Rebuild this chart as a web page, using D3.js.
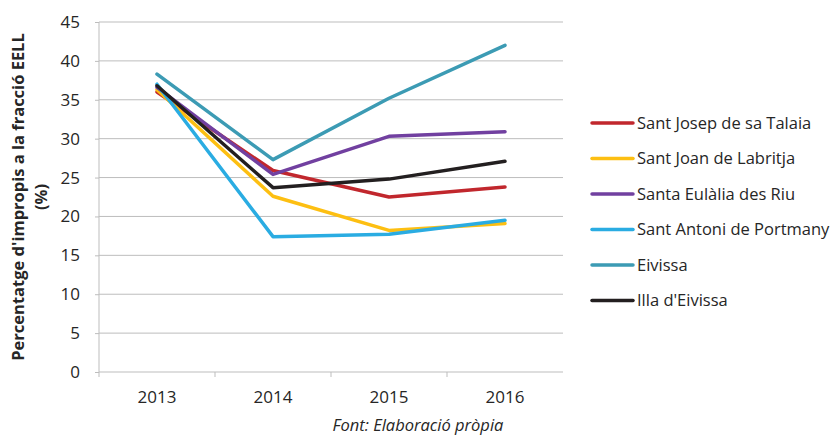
<!DOCTYPE html>
<html>
<head>
<meta charset="utf-8">
<script src="https://cdn.jsdelivr.net/npm/d3@7"></script>
<style>
  body { margin: 0; background: #fff; }
  svg { font-family: "Open Sans", sans-serif; }
</style>
</head>
<body>
<div id="chart_svg"></div>
<script>
// data
const years = ["2013", "2014", "2015", "2016"]
const santJosep = [36.0, 25.9, 22.5, 23.8]
const santJoan = [36.3, 22.6, 18.2, 19.1]
const santaEulalia = [36.6, 25.4, 30.3, 30.9]
const santAntoni = [37.0, 17.4, 17.7, 19.5]
const eivissa = [38.3, 27.3, 35.2, 42.0]
const illa = [36.8, 23.7, 24.8, 27.1]
const yTicks = [0, 5, 10, 15, 20, 25, 30, 35, 40, 45]

const series = [
  {name: "Sant Josep de sa Talaia", values: santJosep, color: "#c1272d"},
  {name: "Sant Joan de Labritja", values: santJoan, color: "#fdbf12"},
  {name: "Santa Eulàlia des Riu", values: santaEulalia, color: "#7140a0"},
  {name: "Sant Antoni de Portmany", values: santAntoni, color: "#2aace2"},
  {name: "Eivissa", values: eivissa, color: "#3c9bb4"},
  {name: "Illa d'Eivissa", values: illa, color: "#231f20"}
]

const totalWidth = 840
const totalHeight = 443
var margin = {top: 22, right: 277, bottom: 71, left: 99},
    width = totalWidth - margin.left - margin.right,
    height = totalHeight - margin.top - margin.bottom;

var svg = d3.select("#chart_svg")
  .append("svg")
  .attr("width", totalWidth)
  .attr("height", totalHeight)

var g = svg.append("g")
  .attr("transform", "translate(" + margin.left + "," + margin.top + ")")

// scales
var x = d3.scaleBand().domain(years).range([0, width]).padding(0)
var y = d3.scaleLinear().domain([0, 45]).range([height, 0])

// gridlines
g.append("g")
  .selectAll("line")
  .data(yTicks.filter(d => d > 0))
  .join("line")
  .attr("x1", 0).attr("x2", width)
  .attr("y1", d => y(d)).attr("y2", d => y(d))
  .attr("stroke", "#bdbdbd")
  .attr("stroke-width", 1)

// y axis
var yAxis = g.append("g")
  .call(d3.axisLeft(y).tickValues(yTicks).tickSize(4).tickPadding(15))
yAxis.select(".domain").attr("stroke", "#bdbdbd").attr("d", "M0," + (height + 5) + "V0")
yAxis.selectAll(".tick line").attr("stroke", "#bdbdbd")
yAxis.selectAll("text").attr("font-size", 17).attr("fill", "#262626").attr("font-family", "Open Sans")

// x axis
var xAxis = g.append("g")
  .attr("transform", "translate(0," + height + ")")
  .call(d3.axisBottom(x).tickSize(0).tickPadding(19))
xAxis.select(".domain").attr("stroke", "#bdbdbd").attr("d", "M0,0H" + width)
xAxis.selectAll("text").attr("font-size", 17).attr("fill", "#262626").attr("font-family", "Open Sans")
// category boundary ticks
g.append("g")
  .selectAll("line")
  .data(years.slice(1))
  .join("line")
  .attr("x1", d => x(d)).attr("x2", d => x(d))
  .attr("y1", height).attr("y2", height + 5)
  .attr("stroke", "#bdbdbd")

// lines
var line = d3.line()
  .x((d, i) => x(years[i]) + x.bandwidth() / 2)
  .y(d => y(d))

g.append("g")
  .selectAll("path")
  .data(series)
  .join("path")
  .attr("fill", "none")
  .attr("stroke", d => d.color)
  .attr("stroke-width", 3.5)
  .attr("stroke-linejoin", "round")
  .attr("stroke-linecap", "round")
  .attr("d", d => line(d.values))

// legend
var legend = svg.append("g")
  .attr("transform", "translate(592,123)")
var item = legend.selectAll("g")
  .data(series)
  .join("g")
  .attr("transform", (d, i) => "translate(0," + (i * 35.5) + ")")
item.append("line")
  .attr("x1", 0).attr("x2", 41)
  .attr("stroke", d => d.color)
  .attr("stroke-width", 3.5)
  .attr("stroke-linecap", "round")
item.append("text")
  .attr("x", 45)
  .attr("dy", "0.35em")
  .attr("font-size", 16.5)
  .attr("fill", "#262626")
  .text(d => d.name)

// y axis title
var yTitle = svg.append("text")
  .attr("transform", "translate(0,197) rotate(-90)")
  .attr("text-anchor", "middle")
  .attr("font-size", 16.5)
  .attr("font-weight", "bold")
  .attr("fill", "#262626")
yTitle.append("tspan").attr("x", 0).attr("y", 24).text("Percentatge d'impropis a la fracció EELL")
yTitle.append("tspan").attr("x", 0).attr("y", 47).text("(%)")

// source note
svg.append("text")
  .attr("x", 418)
  .attr("y", 431)
  .attr("text-anchor", "middle")
  .attr("font-size", 16.5)
  .attr("font-style", "italic")
  .attr("fill", "#262626")
  .text("Font: Elaboració pròpia")
</script>
</body>
</html>
